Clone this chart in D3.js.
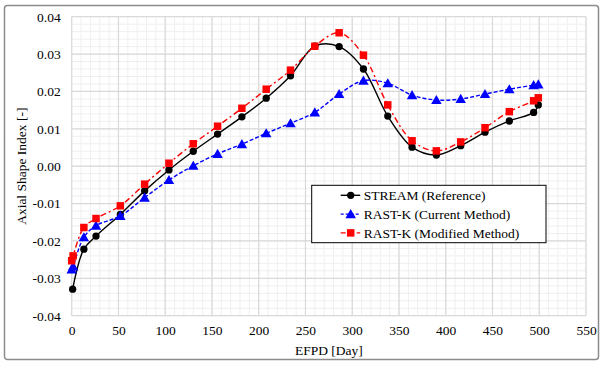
<!DOCTYPE html>
<html>
<head>
<meta charset="utf-8">
<script src="https://cdn.jsdelivr.net/npm/d3@7"></script>
<style>
  body { margin: 0; background: #fff; }
  svg text { font-family: "Liberation Serif", "Times New Roman", serif; }
</style>
</head>
<body>
<div id="chart"></div>
<script>
// EFPD values (days) and axial shape index for each series
const streamX = [1, 13, 26, 52, 78, 104, 130, 156, 182, 208, 234, 260, 286, 312, 338, 364, 390, 416, 442, 468, 494, 499];
const streamY = [-0.0329, -0.0222, -0.0187, -0.0129, -0.0066, -0.0010, 0.0040, 0.0086, 0.0132, 0.0182, 0.0242, 0.0321, 0.0320, 0.0260, 0.0134, 0.0051, 0.0030, 0.0055, 0.0091, 0.0121, 0.0144, 0.0164];

const currentX = [0, 1.5, 13, 26, 52, 78, 104, 130, 156, 182, 208, 234, 260, 286, 312, 338, 364, 390, 416, 442, 468, 494, 499];
const currentY = [-0.0276, -0.0268, -0.0190, -0.0159, -0.0133, -0.0084, -0.0037, 0.0001, 0.0033, 0.0059, 0.0088, 0.0115, 0.0144, 0.0193, 0.0229, 0.0222, 0.0190, 0.0177, 0.0180, 0.0193, 0.0206, 0.0217, 0.0219];

const modifiedX = [0, 1.5, 13, 26, 52, 78, 104, 130, 156, 182, 208, 234, 260, 286, 312, 338, 364, 390, 416, 442, 468, 494, 499];
const modifiedY = [-0.0253, -0.0240, -0.0164, -0.0140, -0.0106, -0.0048, 0.0008, 0.0060, 0.0107, 0.0155, 0.0206, 0.0257, 0.0321, 0.0357, 0.0297, 0.0164, 0.0068, 0.0041, 0.0065, 0.0103, 0.0146, 0.0175, 0.0183];

const seriesNames = ["STREAM (Reference)", "RAST-K (Current Method)", "RAST-K (Modified Method)"];
const xTicks = [0, 50, 100, 150, 200, 250, 300, 350, 400, 450, 500, 550];
const yTicks = [-0.04, -0.03, -0.02, -0.01, 0, 0.01, 0.02, 0.03, 0.04];

const width = 602, height = 365;
const plotL = 71.7, plotR = 586, plotT = 16.7, plotB = 315.7;

const svg = d3.select("#chart").append("svg")
    .attr("width", width)
    .attr("height", height);

// outer chart frame
svg.append("rect")
    .attr("x", 4.5).attr("y", 5.5)
    .attr("width", 594).attr("height", 354)
    .attr("rx", 3)
    .attr("fill", "#fff")
    .attr("stroke", "#8c8c8c")
    .attr("stroke-width", 1.5);

const x = d3.scaleLinear().domain([0, 550]).range([plotL, plotR]);
const y = d3.scaleLinear().domain([-0.04, 0.04]).range([plotB, plotT]);

// minor grid
const grid = svg.append("g");
grid.selectAll(".vmin")
    .data(d3.range(0, 551, 10))
    .join("line")
    .attr("x1", d => x(d)).attr("x2", d => x(d))
    .attr("y1", plotT).attr("y2", plotB)
    .attr("stroke", "#efefef").attr("stroke-width", 1);
grid.selectAll(".hmin")
    .data(d3.range(-40, 41, 2).map(d => d / 1000))
    .join("line")
    .attr("x1", plotL).attr("x2", plotR)
    .attr("y1", d => y(d)).attr("y2", d => y(d))
    .attr("stroke", "#efefef").attr("stroke-width", 1);

// major grid
svg.append("g").selectAll("line")
    .data(xTicks)
    .join("line")
    .attr("x1", d => x(d)).attr("x2", d => x(d))
    .attr("y1", plotT).attr("y2", plotB)
    .attr("stroke", "#d9d9d9").attr("stroke-width", 1.2);
svg.append("g").selectAll("line")
    .data(yTicks)
    .join("line")
    .attr("x1", plotL).attr("x2", plotR)
    .attr("y1", d => y(d)).attr("y2", d => y(d))
    .attr("stroke", "#d9d9d9").attr("stroke-width", 1.2);

// axes (labels only)
const xAxis = svg.append("g")
    .attr("transform", `translate(0,${plotB})`)
    .call(d3.axisBottom(x).tickValues(xTicks).tickSize(0).tickPadding(10));
const yAxis = svg.append("g")
    .attr("transform", `translate(${plotL},0)`)
    .call(d3.axisLeft(y).tickValues(yTicks).tickSize(0).tickPadding(11)
        .tickFormat(d => d.toFixed(2)));
[xAxis, yAxis].forEach(a => {
    a.select(".domain").remove();
    a.selectAll("text")
        .style("font-family", "'Liberation Serif', serif")
        .style("font-size", "13.5px")
        .attr("fill", "#000");
});

svg.append("text")
    .attr("x", (plotL + plotR) / 2).attr("y", 355)
    .attr("text-anchor", "middle")
    .style("font-size", "13.5px")
    .text("EFPD [Day]");

svg.append("text")
    .attr("transform", `translate(26,${(plotT + plotB) / 2}) rotate(-90)`)
    .attr("text-anchor", "middle")
    .style("font-size", "13.5px")
    .text("Axial Shape Index [-]");

const series = [
    { name: seriesNames[0], xs: streamX, ys: streamY, color: "#000", dash: null, marker: "circle" },
    { name: seriesNames[1], xs: currentX, ys: currentY, color: "#0000ff", dash: "4,2", marker: "triangle" },
    { name: seriesNames[2], xs: modifiedX, ys: modifiedY, color: "#ff0000", dash: "6,3,2,3", marker: "square" }
];

const line = d3.line()
    .x(d => x(d[0]))
    .y(d => y(d[1]))
    .curve(d3.curveCatmullRom.alpha(0.5));

const symbols = {
    circle: d3.symbol().type(d3.symbolCircle).size(42),
    triangle: d3.symbol().type(d3.symbolTriangle).size(48),
    square: d3.symbol().type(d3.symbolSquare).size(56)
};

series.forEach(s => {
    const pts = s.xs.map((v, i) => [v, s.ys[i]]);
    svg.append("path")
        .datum(pts)
        .attr("d", line)
        .attr("fill", "none")
        .attr("stroke", s.color)
        .attr("stroke-width", 1.4)
        .attr("stroke-dasharray", s.dash);
    svg.append("g").selectAll("path")
        .data(pts)
        .join("path")
        .attr("d", symbols[s.marker])
        .attr("transform", d => `translate(${x(d[0])},${y(d[1]) + (s.marker === "triangle" ? 1 : 0)})`)
        .attr("fill", s.color);
});

// legend
const legend = svg.append("g").attr("transform", "translate(311.7,185.3)");
legend.append("rect")
    .attr("width", 234.3).attr("height", 57.4)
    .attr("fill", "#fff")
    .attr("stroke", "#000").attr("stroke-width", 1);
series.forEach((s, i) => {
    const cy = 10 + i * 18.8;
    legend.append("line")
        .attr("x1", 29).attr("x2", 48.5)
        .attr("y1", cy).attr("y2", cy)
        .attr("stroke", s.color).attr("stroke-width", 1.4)
        .attr("stroke-dasharray", s.marker === "triangle" ? "3,2" : (s.marker === "square" ? "5,3" : null));
    legend.append("path")
        .attr("d", symbols[s.marker])
        .attr("transform", `translate(39,${cy + (s.marker === "triangle" ? 1 : 0)})`)
        .attr("fill", s.color);
    legend.append("text")
        .attr("x", 52).attr("y", cy)
        .attr("dy", "0.35em")
        .style("font-size", "13.5px")
        .text(s.name);
});
</script>
</body>
</html>
